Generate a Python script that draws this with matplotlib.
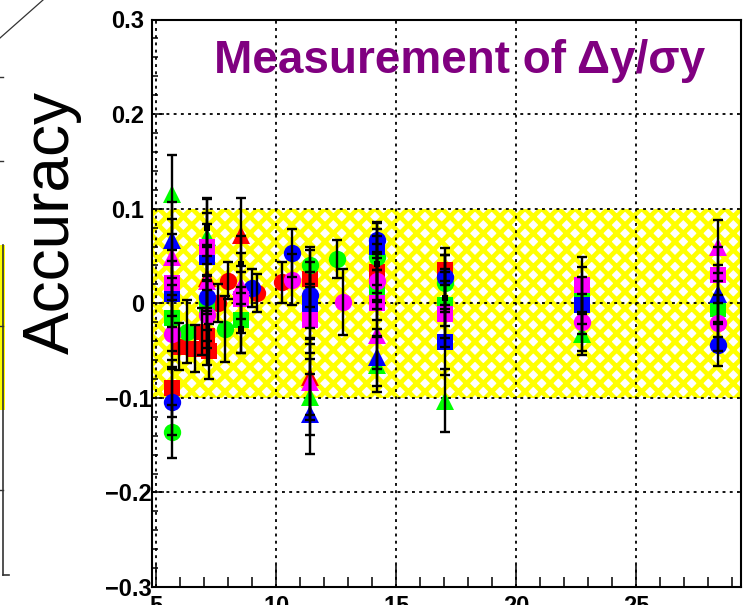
import matplotlib
matplotlib.use('Agg')
import matplotlib.pyplot as plt
from matplotlib.ticker import MultipleLocator, FixedLocator
from matplotlib.lines import Line2D
from matplotlib.patches import Rectangle
from matplotlib.transforms import ScaledTranslation

plt.rcParams['hatch.linewidth'] = 3.4

# ---------------- data ----------------
red_circle_x = [7.58, 8.00, 9.18, 10.22]
red_circle_y = [0.000, 0.024, 0.011, 0.022]
red_circle_e = [0.020, 0.020, 0.020, 0.022]

red_square_x = [5.67, 5.93, 6.63, 6.90, 7.12, 7.20, 11.40, 14.21, 17.03]
red_square_y = [-0.090, -0.046, -0.048, -0.030, -0.035, -0.051, 0.026, 0.033, 0.035]
red_square_e = [0.030, 0.025, 0.025, 0.025, 0.030, 0.029, 0.030, 0.030, 0.016]

red_tri_x = [7.12, 8.53, 11.40]
red_tri_y = [0.027, 0.072, -0.078]
red_tri_e = [0.035, 0.039, 0.040]

green_circle_x = [5.67, 6.28, 7.86, 11.40, 12.52, 14.21, 17.03]
green_circle_y = [-0.136, -0.030, -0.027, 0.040, 0.047, 0.049, 0.021]
green_circle_e = [0.028, 0.033, 0.035, 0.020, 0.020, 0.030, 0.030]

green_square_x = [5.67, 7.12, 8.53, 14.21, 17.03, 22.75, 28.42]
green_square_y = [-0.016, -0.005, -0.018, 0.017, -0.002, 0.008, -0.006]
green_square_e = [0.035, 0.035, 0.035, 0.035, 0.035, 0.030, 0.030]

green_tri_x = [5.67, 7.12, 11.40, 14.21, 17.03, 22.75]
green_tri_y = [0.115, 0.070, -0.099, -0.065, -0.103, -0.032]
green_tri_e = [0.042, 0.041, 0.040, 0.029, 0.033, 0.023]

blue_circle_x = [5.67, 7.12, 8.97, 10.64, 11.40, 14.21, 17.03, 28.42]
blue_circle_y = [-0.104, 0.007, 0.016, 0.053, 0.009, 0.067, 0.028, -0.044]
blue_circle_e = [0.035, 0.035, 0.020, 0.025, 0.035, 0.019, 0.030, 0.022]

blue_square_x = [5.67, 7.12, 11.40, 14.21, 17.03, 22.75]
blue_square_y = [0.010, 0.049, -0.002, 0.060, -0.041, -0.002]
blue_square_e = [0.035, 0.035, 0.035, 0.025, 0.035, 0.030]

blue_tri_x = [5.67, 11.40, 14.21, 28.42]
blue_tri_y = [0.067, -0.117, -0.057, 0.010]
blue_tri_e = [0.040, 0.042, 0.030, 0.030]

magenta_circle_x = [5.67, 7.12, 10.64, 12.79, 14.21, 22.75, 28.42]
magenta_circle_y = [-0.032, -0.012, 0.025, 0.001, 0.024, -0.020, -0.021]
magenta_circle_e = [0.035, 0.035, 0.027, 0.035, 0.030, 0.030, 0.030]

magenta_square_x = [5.67, 7.12, 8.53, 11.40, 14.21, 17.03, 22.75, 28.42]
magenta_square_y = [0.021, 0.060, 0.004, -0.018, 0.000, -0.011, 0.019, 0.030]
magenta_square_e = [0.035, 0.035, 0.035, 0.035, 0.035, 0.035, 0.030, 0.030]

magenta_tri_x = [5.67, 7.12, 8.53, 11.40, 14.21, 28.42]
magenta_tri_y = [0.049, 0.024, 0.018, -0.083, -0.034, 0.060]
magenta_tri_e = [0.040, 0.035, 0.035, 0.040, 0.035, 0.028]

black_x = [7.12, 8.53, 8.53, 14.21, 17.03]
black_y = [0.080, 0.041, -0.027, 0.041, 0.006]
black_e = [0.030, 0.030, 0.026, 0.030, 0.030]

band_low, band_high = -0.1, 0.1
x_ticks = [5, 10, 15, 20, 25]
y_ticks = [-0.3, -0.2, -0.1, 0, 0.1, 0.2, 0.3]
y_tick_labels = ['\u22120.3', '\u22120.2', '\u22120.1', '0', '0.1', '0.2', '0.3']
x_tick_labels = ['5', '10', '15', '20', '25']
title_text = 'Measurement of \u0394y/\u03c3y'
ylabel_text = 'Accuracy'

# ---------------- figure ----------------
W, H = 751, 605
fig = plt.figure(figsize=(W / 100, H / 100), dpi=100)
ax = fig.add_axes([151.5 / W, 1 - 587 / H, (741 - 151.5) / W, (587 - 19.5) / H])
xlim = (4.8, 29.36)
ax.set_xlim(*xlim)
ax.set_ylim(-0.3, 0.3)

# hatched yellow band
ax.fill_between(list(xlim), band_low, band_high, facecolor='white',
                edgecolor='#ffff00', hatch='xx', linewidth=0, zorder=1)

ax.set_axisbelow('line')
ax.grid(True, which='major', color='black', linestyle=(0, (1.6, 2.4)), linewidth=1.3)

series = [
    (red_circle_x, red_circle_y, red_circle_e, '#ff0000', 'o'),
    (red_square_x, red_square_y, red_square_e, '#ff0000', 's'),
    (red_tri_x, red_tri_y, red_tri_e, '#ff0000', '^'),
    (green_circle_x, green_circle_y, green_circle_e, '#00ff00', 'o'),
    (green_square_x, green_square_y, green_square_e, '#00ff00', 's'),
    (green_tri_x, green_tri_y, green_tri_e, '#00ff00', '^'),
    (blue_circle_x, blue_circle_y, blue_circle_e, '#0000ff', 'o'),
    (blue_square_x, blue_square_y, blue_square_e, '#0000ff', 's'),
    (blue_tri_x, blue_tri_y, blue_tri_e, '#0000ff', '^'),
    (magenta_circle_x, magenta_circle_y, magenta_circle_e, '#ff00ff', 'o'),
    (magenta_square_x, magenta_square_y, magenta_square_e, '#ff00ff', 's'),
    (magenta_tri_x, magenta_tri_y, magenta_tri_e, '#ff00ff', '^'),
]
msize = {'o': 12.5, 's': 11.5, '^': 13.0}
for xs, ys, es, col, mk in series:
    ax.plot(xs, ys, linestyle='none', marker=mk, markersize=msize[mk],
            markerfacecolor=col, markeredgewidth=0, zorder=3)
ax.plot(black_x, black_y, linestyle='none', marker='s', markersize=5,
        markerfacecolor='black', markeredgewidth=0, zorder=3)

for xs, ys, es, col, mk in series + [(black_x, black_y, black_e, 'black', 's')]:
    ax.errorbar(xs, ys, yerr=es, fmt='none', ecolor='black', elinewidth=1.7,
                capsize=3.3, capthick=1.7, zorder=4)

# axes styling
for s in ax.spines.values():
    s.set_linewidth(1.5)
    s.set_zorder(5)
ax.xaxis.set_major_locator(FixedLocator(x_ticks))
ax.xaxis.set_minor_locator(MultipleLocator(1))
ax.yaxis.set_major_locator(FixedLocator(y_ticks))
ax.yaxis.set_minor_locator(MultipleLocator(0.02))
ax.set_xticklabels(x_tick_labels)
ax.set_yticklabels(y_tick_labels)
ax.tick_params(axis='x', which='major', direction='in', length=16, width=1.1, pad=6.0)
ax.tick_params(axis='x', which='minor', direction='in', length=7, width=1.1)
ax.tick_params(axis='y', which='major', direction='in', length=8.5, width=1.1, pad=5.5)
ax.tick_params(axis='y', which='minor', direction='in', length=4.3, width=1.1)
for lab in ax.get_xticklabels() + ax.get_yticklabels():
    lab.set_fontfamily(['Liberation Sans', 'DejaVu Sans'])
    lab.set_fontweight('bold')
    lab.set_fontsize(17)
shift = ScaledTranslation(8 / 100, 0, fig.dpi_scale_trans)
for lab in ax.get_yticklabels():
    if lab.get_text().startswith('\u2212'):
        lab.set_transform(lab.get_transform() + shift)

# title inside the frame
fig.text(460 / W, 1 - 61 / H, title_text, color='#800080', fontsize=33,
         fontweight='bold', family=['Liberation Sans', 'DejaVu Sans'],
         ha='center', va='center')

# y-axis title (shared label between panels)
fig.text(52 / W, 1 - 222 / H, ylabel_text, rotation=90, fontsize=46,
         family=['Liberation Sans', 'DejaVu Sans'], ha='center', va='center')

# fragments of neighbouring panel on the left edge
fig.add_artist(Rectangle((0, 1 - 410 / H), 5 / W, (410 - 245) / H,
                         transform=fig.transFigure, facecolor='#ffff00',
                         edgecolor='none'))
fig.add_artist(Line2D([3 / W, 3 / W], [1 - 245 / H, 1 - 575 / H],
                      transform=fig.transFigure, color='#333333', linewidth=1.2))
fig.add_artist(Line2D([3 / W, 9 / W], [1 - 575 / H, 1 - 575 / H],
                      transform=fig.transFigure, color='#333333', linewidth=1.2))
fig.add_artist(Line2D([0, 43 / W], [1 - 38 / H, 1.0],
                      transform=fig.transFigure, color='#333333', linewidth=0.9))
for ty in [77, 161, 326, 490]:
    fig.add_artist(Line2D([0, 3 / W], [1 - ty / H, 1 - ty / H],
                          transform=fig.transFigure, color='#333333', linewidth=1.0))

fig.savefig('out.png', dpi=100)
